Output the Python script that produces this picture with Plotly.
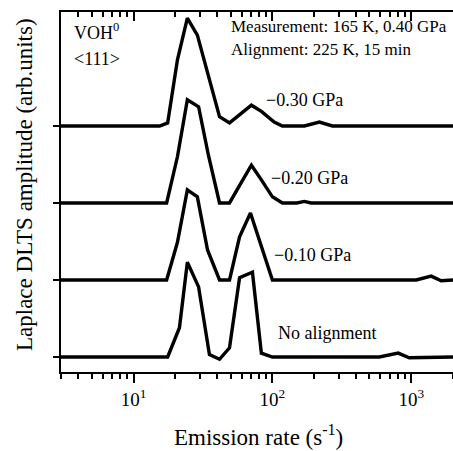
import plotly.graph_objects as go

# Emission rates (s^-1) and Laplace DLTS amplitudes (arb. units) for each spectrum
rates_030 = [3, 15.4, 17.6, 20.7, 24.4, 28.8, 41.6, 49.1, 70.6, 83.3, 103, 118, 170, 218, 270, 2000]
amp_030 = [0, 0, 0.04, 0.86, 1.40, 1.18, 0.12, 0.04, 0.27, 0.19, 0.05, 0, 0, 0.05, 0, 0]

rates_020 = [3, 17.3, 20.7, 24.4, 29.4, 34.6, 41.6, 49.1, 59.9, 70.6, 83.3, 100, 118, 150, 170, 190, 2000]
amp_020 = [0, 0, 0.60, 1.34, 1.25, 0.62, 0, 0, 0.27, 0.49, 0.30, 0.08, 0, 0, 0.02, 0, 0]

rates_010 = [3, 17.3, 20.7, 24.4, 28.8, 34.1, 41.6, 49.1, 58.0, 69.5, 100, 1087, 1393, 1644, 2000]
amp_010 = [0, 0, 0.49, 1.17, 1.08, 0.39, 0, 0, 0.56, 0.87, 0, 0, 0.05, -0.01, 0]

rates_000 = [3, 17.6, 21.4, 24.4, 29.4, 35.2, 41.6, 49.1, 58.0, 71.8, 83.3, 100, 589, 806, 968, 2000]
amp_000 = [0, 0, 0.38, 1.23, 0.91, 0.03, -0.03, 0.12, 1.03, 1.10, 0.05, 0, 0, 0.05, -0.01, 0]

labels = ["\u22120.30 GPa", "\u22120.20 GPa", "\u22120.10 GPa", "No alignment"]
offsets = [3, 2, 1, 0]

series = [(rates_030, amp_030), (rates_020, amp_020), (rates_010, amp_010), (rates_000, amp_000)]

x_tickvals = [10, 100, 1000]
x_ticktext = ["10<sup>1</sup>", "10<sup>2</sup>", "10<sup>3</sup>"]
x_minor = [3, 4, 5, 6, 7, 8, 9, 20, 30, 40, 50, 60, 70, 80, 90,
           200, 300, 400, 500, 600, 700, 800, 900, 2000]

FONT = "Liberation Serif, Times New Roman, serif"

fig = go.Figure()
for (r, a), off, name in zip(series, offsets, labels):
    fig.add_trace(go.Scatter(
        x=r, y=[v + off for v in a], mode="lines", name=name,
        line=dict(color="black", width=3.4), showlegend=False, hoverinfo="skip"))

# invisible trace for the top (mirror) axis
fig.add_trace(go.Scatter(x=[3, 2000], y=[0, 0], xaxis="x2", mode="lines",
                         line=dict(width=0), showlegend=False, hoverinfo="skip"))

xr = [0.47712, 3.30103]
fig.update_layout(
    width=453, height=451,
    margin=dict(l=61, r=0, t=12, b=79),
    plot_bgcolor="white", paper_bgcolor="white",
    font=dict(family=FONT, color="black"),
    xaxis=dict(type="log", range=xr, showline=True, linecolor="black", linewidth=2,
               ticks="outside", ticklen=9, tickwidth=1.5, tickcolor="black",
               tickvals=x_tickvals, ticktext=x_ticktext,
               tickfont=dict(family=FONT, size=19, color="black"),
               minor=dict(tickvals=x_minor, ticks="outside", ticklen=5, tickwidth=1.5,
                          tickcolor="black", showgrid=False),
               showgrid=False, zeroline=False, mirror=False),
    xaxis2=dict(type="log", range=xr, overlaying="x", side="top", anchor="y",
                showline=True, linecolor="black", linewidth=2,
                ticks="inside", ticklen=9, tickwidth=1.5, tickcolor="black",
                tickvals=x_tickvals, showticklabels=False,
                minor=dict(tickvals=x_minor, ticks="inside", ticklen=5, tickwidth=1.5,
                           tickcolor="black", showgrid=False),
                showgrid=False, zeroline=False),
    yaxis=dict(range=[-0.195, 4.48], showline=True, linecolor="black", linewidth=2,
               ticks="outside", ticklen=6, tickwidth=1.5, tickcolor="black",
               tickvals=offsets, showticklabels=False,
               showgrid=False, zeroline=False),
)

def px_x(px):
    return (px - 61) / 392

def px_y(py):
    return (372 - py) / 360

annots = [
    ("VOH<sup>0</sup>", 72, 31, 18),
    ("&lt;111&gt;", 72, 59, 18),
    ("Measurement: 165 K, 0.40 GPa", 229, 27, 17),
    ("Alignment: 225 K, 15 min", 229, 50, 17),
]
for text, x, y, s in annots:
    fig.add_annotation(text=text, xref="paper", yref="paper", x=px_x(x), y=px_y(y),
                       xanchor="left", yanchor="middle", showarrow=False,
                       font=dict(family=FONT, size=s, color="black"))

label_pos = [(264, 100), (269, 178), (272, 255), (276, 333)]
for name, (x, y) in zip(labels, label_pos):
    fig.add_annotation(text=name, xref="paper", yref="paper", x=px_x(x), y=px_y(y),
                       xanchor="left", yanchor="middle", showarrow=False,
                       font=dict(family=FONT, size=18, color="black"))

fig.add_annotation(text="Emission rate (s<sup>-1</sup>)", xref="paper", yref="paper",
                   x=px_x(258), y=px_y(435), xanchor="center", yanchor="middle",
                   showarrow=False, font=dict(family=FONT, size=23, color="black"))
fig.add_annotation(text="Laplace DLTS amplitude (arb.units)", xref="paper", yref="paper",
                   x=px_x(25), y=px_y(185), xanchor="center", yanchor="middle",
                   textangle=-90, showarrow=False,
                   font=dict(family=FONT, size=23, color="black"))

fig.write_html("out.html")
